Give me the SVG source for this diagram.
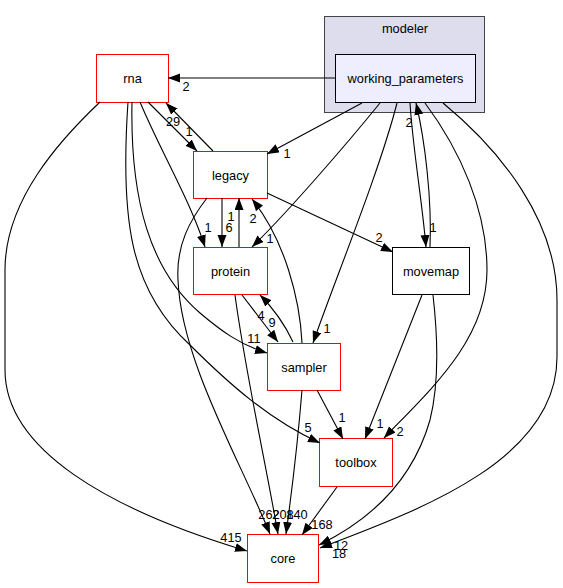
<svg xmlns="http://www.w3.org/2000/svg" width="563" height="588" viewBox="0 0 563 588">
<style>
text{font-family:"Liberation Sans",Arial,Helvetica,sans-serif;font-size:12.8px;fill:#000;text-anchor:middle}
.n{fill:#fff;stroke:#ff0000;stroke-width:1}
.b{fill:#fff;stroke:#000;stroke-width:1}
.e path{fill:none;stroke:#000;stroke-width:1.1;marker-end:url(#ah)}
</style>
<defs>
<marker id="ah" markerUnits="userSpaceOnUse" markerWidth="13" markerHeight="10" refX="12" refY="4.5" orient="auto">
<path d="M0,0 L12,4.5 L0,9 z" fill="#000"/>
</marker>
</defs>
<rect width="563" height="588" fill="#fff"/>
<g id="cluster_modeler">
<rect x="324.5" y="16.5" width="160" height="96" fill="#ddddee" stroke="#444"/>
<text x="405" y="33">modeler</text>
</g>
<g id="working_parameters">
<rect x="335.5" y="54.5" width="140" height="48" fill="#eeeeff" stroke="#000"/>
<text x="405.5" y="83">working_parameters</text>
</g>
<g id="rna">
<rect class="n" x="96.5" y="54.5" width="72" height="48"/>
<text x="132.5" y="83">rna</text>
</g>
<g id="legacy">
<rect class="n" x="193.5" y="151.5" width="74" height="47"/>
<text x="230.5" y="179.5">legacy</text>
</g>
<g id="protein">
<rect class="n" x="193.5" y="247.5" width="74" height="47"/>
<text x="230.5" y="275.5">protein</text>
</g>
<g id="movemap">
<rect class="b" x="392.5" y="247.5" width="77" height="47"/>
<text x="431" y="275.5">movemap</text>
</g>
<g id="sampler">
<rect class="n" x="267.5" y="343.5" width="73" height="47"/>
<text x="304" y="371.5">sampler</text>
</g>
<g id="toolbox">
<rect class="n" x="319.5" y="438.5" width="73" height="48"/>
<text x="356" y="467">toolbox</text>
</g>
<g id="core">
<rect class="n" x="247.5" y="534.5" width="71" height="48"/>
<text x="283" y="563">core</text>
</g>
<g id="edges" class="e">
<path d="M335,78 L168,78"/>
<path d="M362,103 L267,154"/>
<path d="M380,103 C350,140 290,210 252,247"/>
<path d="M397,103 C380,170 335,280 313,343"/>
<path d="M410,103 C413,150 422,200 426,247"/>
<path d="M430,247 C432,200 425,140 416,103"/>
<path d="M425,103 C460,150 487,210 487,270 C487,340 430,390 384,438"/>
<path d="M443,103 C500,150 557,220 557,300 L557,357 C557,460 420,510 320,548"/>
<path d="M422,295 L365,439"/>
<path d="M433,295 C437,330 440,380 430,420 C410,490 360,525 319,545"/>
<path d="M148,102 L197,151"/>
<path d="M213,151 L166,103"/>
<path d="M140,102 C160,150 190,200 205,247"/>
<path d="M132,102 C130,200 150,270 200,313 C220,330 240,345 267,353"/>
<path d="M128,102 C120,220 130,290 190,345 C230,385 270,420 320,443"/>
<path d="M100,102 C60,140 5,200 5,270 L5,370 C5,450 110,510 247,551"/>
<path d="M267,193 L393,252"/>
<path d="M222,198 L222,247"/>
<path d="M239,247 L239,198"/>
<path d="M302,343 C300,300 285,240 252,199"/>
<path d="M242,295 L278,342"/>
<path d="M293,342 C285,325 275,310 260,295"/>
<path d="M207,198 C190,220 176,245 178,280 C181,360 240,460 270,534"/>
<path d="M235,295 C245,370 265,460 278,534"/>
<path d="M302,390 C298,440 292,490 286,534"/>
<path d="M337,487 L302,535"/>
<path d="M317,390 L343,439"/>
</g>
<g id="edge-labels">
<text x="186" y="90.5">2</text>
<text x="287" y="157.5">1</text>
<text x="270" y="242.5">1</text>
<text x="327" y="332.5">1</text>
<text x="409" y="126.5">2</text>
<text x="433" y="231.5">1</text>
<text x="400" y="435.5">2</text>
<text x="341" y="549.5">12</text>
<text x="339" y="557.5">18</text>
<text x="173" y="125.5">29</text>
<text x="189" y="135.5">1</text>
<text x="208" y="231.5">1</text>
<text x="229" y="231.5">6</text>
<text x="231" y="220.5">1</text>
<text x="253" y="222.5">2</text>
<text x="261" y="319.5">4</text>
<text x="272" y="326.5">9</text>
<text x="254" y="342.5">11</text>
<text x="308" y="431.5">5</text>
<text x="231" y="541.5">415</text>
<text x="379" y="241.5">2</text>
<text x="269" y="518.5">262</text>
<text x="283" y="518.5">208</text>
<text x="297" y="519">140</text>
<text x="322" y="528.5">168</text>
<text x="380" y="427.5">1</text>
<text x="342" y="421.5">1</text>
</g>
</svg>
